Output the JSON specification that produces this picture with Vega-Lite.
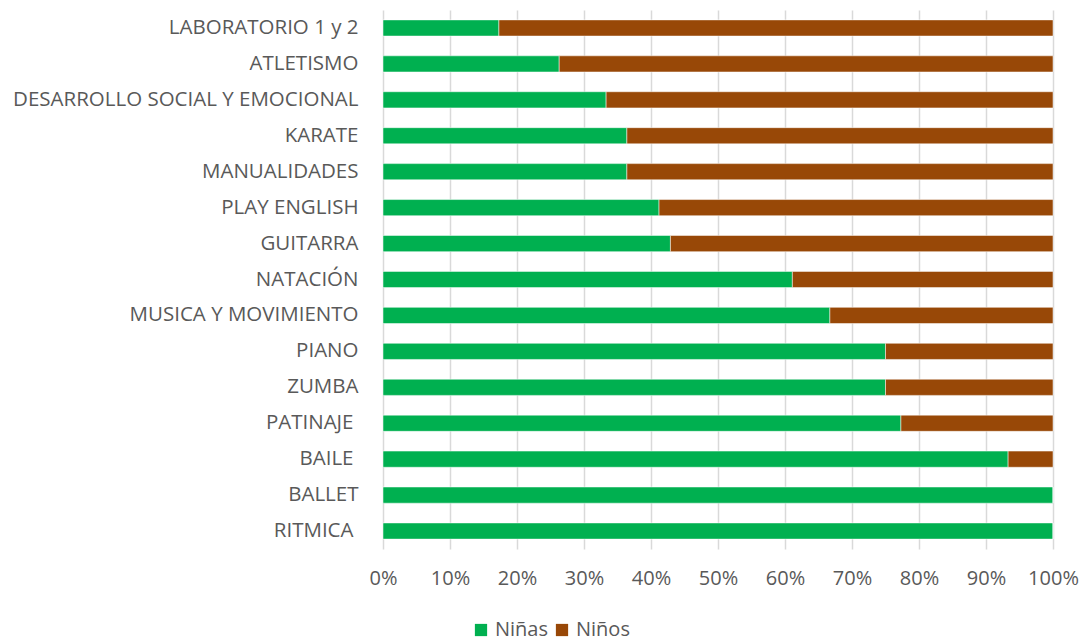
{
  "$schema": "https://vega.github.io/schema/vega-lite/v6.json",
  "width": 670,
  "height": 539,
  "autosize": {"type": "none"},
  "padding": {"left": 383, "top": 10, "right": 28, "bottom": 94},
  "background": "#ffffff",
  "config": {
    "view": {"stroke": null},
    "font": "Open Sans"
  },
  "data": {
    "values": [
      {"actividad": "LABORATORIO 1 y 2", "genero": "Niñas", "pct": 17.3},
      {"actividad": "LABORATORIO 1 y 2", "genero": "Niños", "pct": 82.7},
      {"actividad": "ATLETISMO", "genero": "Niñas", "pct": 26.3},
      {"actividad": "ATLETISMO", "genero": "Niños", "pct": 73.7},
      {"actividad": "DESARROLLO SOCIAL Y EMOCIONAL", "genero": "Niñas", "pct": 33.3},
      {"actividad": "DESARROLLO SOCIAL Y EMOCIONAL", "genero": "Niños", "pct": 66.7},
      {"actividad": "KARATE", "genero": "Niñas", "pct": 36.4},
      {"actividad": "KARATE", "genero": "Niños", "pct": 63.6},
      {"actividad": "MANUALIDADES", "genero": "Niñas", "pct": 36.4},
      {"actividad": "MANUALIDADES", "genero": "Niños", "pct": 63.6},
      {"actividad": "PLAY ENGLISH", "genero": "Niñas", "pct": 41.2},
      {"actividad": "PLAY ENGLISH", "genero": "Niños", "pct": 58.8},
      {"actividad": "GUITARRA", "genero": "Niñas", "pct": 42.9},
      {"actividad": "GUITARRA", "genero": "Niños", "pct": 57.1},
      {"actividad": "NATACIÓN", "genero": "Niñas", "pct": 61.1},
      {"actividad": "NATACIÓN", "genero": "Niños", "pct": 38.9},
      {"actividad": "MUSICA Y MOVIMIENTO", "genero": "Niñas", "pct": 66.7},
      {"actividad": "MUSICA Y MOVIMIENTO", "genero": "Niños", "pct": 33.3},
      {"actividad": "PIANO", "genero": "Niñas", "pct": 75},
      {"actividad": "PIANO", "genero": "Niños", "pct": 25},
      {"actividad": "ZUMBA", "genero": "Niñas", "pct": 75},
      {"actividad": "ZUMBA", "genero": "Niños", "pct": 25},
      {"actividad": "PATINAJE ", "genero": "Niñas", "pct": 77.3},
      {"actividad": "PATINAJE ", "genero": "Niños", "pct": 22.7},
      {"actividad": "BAILE ", "genero": "Niñas", "pct": 93.3},
      {"actividad": "BAILE ", "genero": "Niños", "pct": 6.7},
      {"actividad": "BALLET", "genero": "Niñas", "pct": 100},
      {"actividad": "BALLET", "genero": "Niños", "pct": 0},
      {"actividad": "RITMICA ", "genero": "Niñas", "pct": 100},
      {"actividad": "RITMICA ", "genero": "Niños", "pct": 0}
    ]
  },
  "mark": {"type": "bar", "stroke": "#ffffff", "strokeWidth": 0.5},
  "encoding": {
    "y": {
      "field": "actividad",
      "type": "nominal",
      "sort": null,
      "scale": {"paddingInner": 0.55, "paddingOuter": 0.275},
      "axis": {
        "title": null,
        "domain": false,
        "ticks": false,
        "labelPadding": {
          "condition": {"test": "substring(datum.value, length(datum.value) - 1) == ' '", "value": 30},
          "value": 25
        },
        "labelFontSize": 20.5,
        "labelColor": "#595959",
        "labelFont": "Open Sans",
        "labelLimit": 400
      }
    },
    "x": {
      "field": "pct",
      "type": "quantitative",
      "stack": "normalize",
      "scale": {"domain": [0, 1], "nice": false},
      "axis": {
        "title": null,
        "format": ".0%",
        "values": [0, 0.1, 0.2, 0.3, 0.4, 0.5, 0.6, 0.7, 0.8, 0.9, 1],
        "labelOverlap": false,
        "labelFlush": false,
        "domain": false,
        "ticks": false,
        "grid": true,
        "gridColor": "#d9d9d9",
        "gridWidth": 1.5,
        "labelPadding": 19,
        "labelFontSize": 20,
        "labelColor": "#595959",
        "labelFont": "Open Sans"
      }
    },
    "color": {
      "field": "genero",
      "type": "nominal",
      "scale": {"domain": ["Niñas", "Niños"], "range": ["#00b050", "#984807"]},
      "legend": {
        "title": null,
        "orient": "none",
        "direction": "horizontal",
        "legendX": 88,
        "legendY": 610,
        "symbolType": "square",
        "symbolSize": 150,
        "symbolStrokeWidth": 0,
        "labelFontSize": 20,
        "labelColor": "#595959",
        "labelFont": "Open Sans",
        "columnPadding": 3,
        "labelOffset": 4
      }
    },
    "order": {"field": "genero", "sort": "ascending"}
  }
}
